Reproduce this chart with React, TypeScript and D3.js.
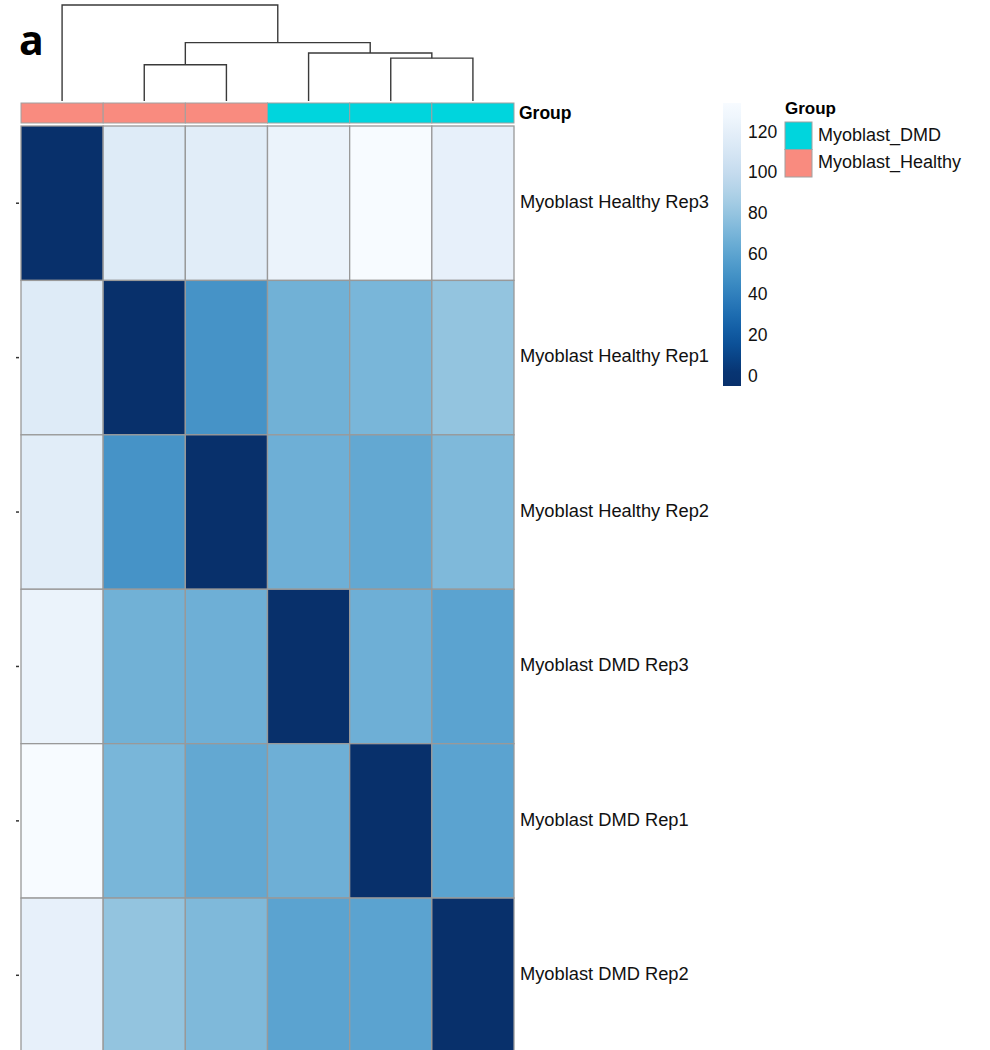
import React from "react";
import * as d3 from "d3";

const samples = [
  "Myoblast Healthy Rep3",
  "Myoblast Healthy Rep1",
  "Myoblast Healthy Rep2",
  "Myoblast DMD Rep3",
  "Myoblast DMD Rep1",
  "Myoblast DMD Rep2",
];
const groups = [
  "Myoblast_Healthy",
  "Myoblast_Healthy",
  "Myoblast_Healthy",
  "Myoblast_DMD",
  "Myoblast_DMD",
  "Myoblast_DMD",
];
const distances = [
  [0, 116, 118, 125, 133, 122],
  [116, 0, 51, 68, 71, 80],
  [118, 51, 0, 67, 63, 73],
  [125, 68, 67, 0, 67, 60],
  [133, 71, 63, 67, 0, 60],
  [122, 80, 73, 60, 60, 0],
];
const legendTicks = [0, 20, 40, 60, 80, 100, 120];
const legendGroups = ["Myoblast_DMD", "Myoblast_Healthy"];
const groupColors: Record<string, string> = {
  Myoblast_DMD: "#00D5DD",
  Myoblast_Healthy: "#F98B7F",
};

// column dendrogram (leaf = column index, h = merge height)
type Node = { h: number; leaf?: number; children?: Node[] };
const dendro: Node = {
  h: 130,
  children: [
    { h: 0, leaf: 0 },
    {
      h: 79,
      children: [
        { h: 49, children: [{ h: 0, leaf: 1 }, { h: 0, leaf: 2 }] },
        {
          h: 65,
          children: [
            { h: 0, leaf: 3 },
            { h: 58, children: [{ h: 0, leaf: 4 }, { h: 0, leaf: 5 }] },
          ],
        },
      ],
    },
  ],
};

const W = 990;
const H = 1050;
const FONT = "'Liberation Sans', Arial, Helvetica, sans-serif";

export default function App() {
  const idx = d3.range(samples.length);
  const x = d3.scaleBand<number>().domain(idx).range([21, 514]);
  const y = d3.scaleBand<number>().domain(idx).range([126, 1052.5]);
  const maxV = d3.max(distances.flat()) as number;
  const color = (v: number) =>
    d3.interpolateBlues(1 - Math.max(0, Math.min(1, v / maxV)));

  const hy = d3.scaleLinear().domain([0, 130]).range([101, 5]);

  const root = d3.hierarchy<Node>(dendro, (d) => d.children);
  const xPos = new Map<any, number>();
  root.eachAfter((n) => {
    if (n.data.leaf !== undefined) {
      xPos.set(n, (x(n.data.leaf) as number) + x.bandwidth() / 2);
    } else {
      const cs = n.children!;
      xPos.set(n, (xPos.get(cs[0])! + xPos.get(cs[cs.length - 1])!) / 2);
    }
  });
  const dendroPaths: string[] = [];
  root.each((n) => {
    if (!n.children) return;
    const [a, b] = n.children;
    const p = d3.path();
    p.moveTo(xPos.get(a)!, hy(a.data.h));
    p.lineTo(xPos.get(a)!, hy(n.data.h));
    p.lineTo(xPos.get(b)!, hy(n.data.h));
    p.lineTo(xPos.get(b)!, hy(b.data.h));
    dendroPaths.push(p.toString());
  });

  // colour legend
  const lgTop = 103;
  const lgBot = 386;
  const lgScale = d3.scaleLinear().domain([-4.4, 134.8]).range([lgBot, lgTop]);
  const gradStops = d3.range(0, 1.0001, 0.05);

  return (
    <svg
      width={W}
      height={H}
      style={{ position: "absolute", left: 0, top: 0, background: "#fff" }}
      fontFamily={FONT}
    >
      <defs>
        <linearGradient id="lg" x1="0" y1="1" x2="0" y2="0">
          {gradStops.map((t) => {
            const v = lgScale.domain()[0] + t * (lgScale.domain()[1] - lgScale.domain()[0]);
            return <stop key={t} offset={t} stopColor={color(v)} />;
          })}
        </linearGradient>
      </defs>
      <rect width={W} height={H} fill="#fff" />

      <text x={19} y={55} fontSize={41} fontWeight="bold" fontFamily="'Open Sans', 'DejaVu Sans', sans-serif">
        a
      </text>

      {dendroPaths.map((d, i) => (
        <path key={i} d={d} fill="none" stroke="#3a3a3a" strokeWidth={1.4} />
      ))}

      {/* annotation bar */}
      {idx.map((j) => (
        <rect
          key={j}
          x={x(j)}
          y={103}
          width={x.bandwidth()}
          height={20}
          fill={groupColors[groups[j]]}
          stroke="#a0a0a0"
          strokeWidth={1}
        />
      ))}
      <text x={519} y={114} fontSize={17.5} fontWeight="bold" dominantBaseline="middle">
        Group
      </text>

      {/* heatmap */}
      {distances.map((row, i) =>
        row.map((v, j) => (
          <rect
            key={`${i}-${j}`}
            x={x(j)}
            y={y(i)}
            width={x.bandwidth()}
            height={y.bandwidth()}
            fill={color(v)}
            stroke="#999999"
            strokeWidth={1.3}
          />
        ))
      )}
      {samples.map((s, i) => (
        <g key={s}>
          <line
            x1={16}
            x2={19}
            y1={(y(i) as number) + y.bandwidth() / 2}
            y2={(y(i) as number) + y.bandwidth() / 2}
            stroke="#333"
            strokeWidth={1.5}
          />
          <text
            x={520}
            y={(y(i) as number) + y.bandwidth() / 2}
            fontSize={18.3}
            dominantBaseline="middle"
            fill="#111"
          >
            {s}
          </text>
        </g>
      ))}

      {/* colour legend */}
      <rect x={723} y={lgTop} width={18} height={lgBot - lgTop} fill="url(#lg)" />
      {legendTicks.map((t) => (
        <text key={t} x={748} y={lgScale(t)} fontSize={17.5} dominantBaseline="middle" fill="#111">
          {t}
        </text>
      ))}

      {/* group legend */}
      <text x={785} y={110} fontSize={17} fontWeight="bold" dominantBaseline="middle">
        Group
      </text>
      {legendGroups.map((g, i) => (
        <g key={g}>
          <rect
            x={785}
            y={122 + i * 27.5}
            width={27}
            height={27.5}
            fill={groupColors[g]}
            stroke="#a0a0a0"
            strokeWidth={1}
          />
          <text x={818} y={136 + i * 27.5} fontSize={18} dominantBaseline="middle" fill="#111">
            {g}
          </text>
        </g>
      ))}
    </svg>
  );
}
